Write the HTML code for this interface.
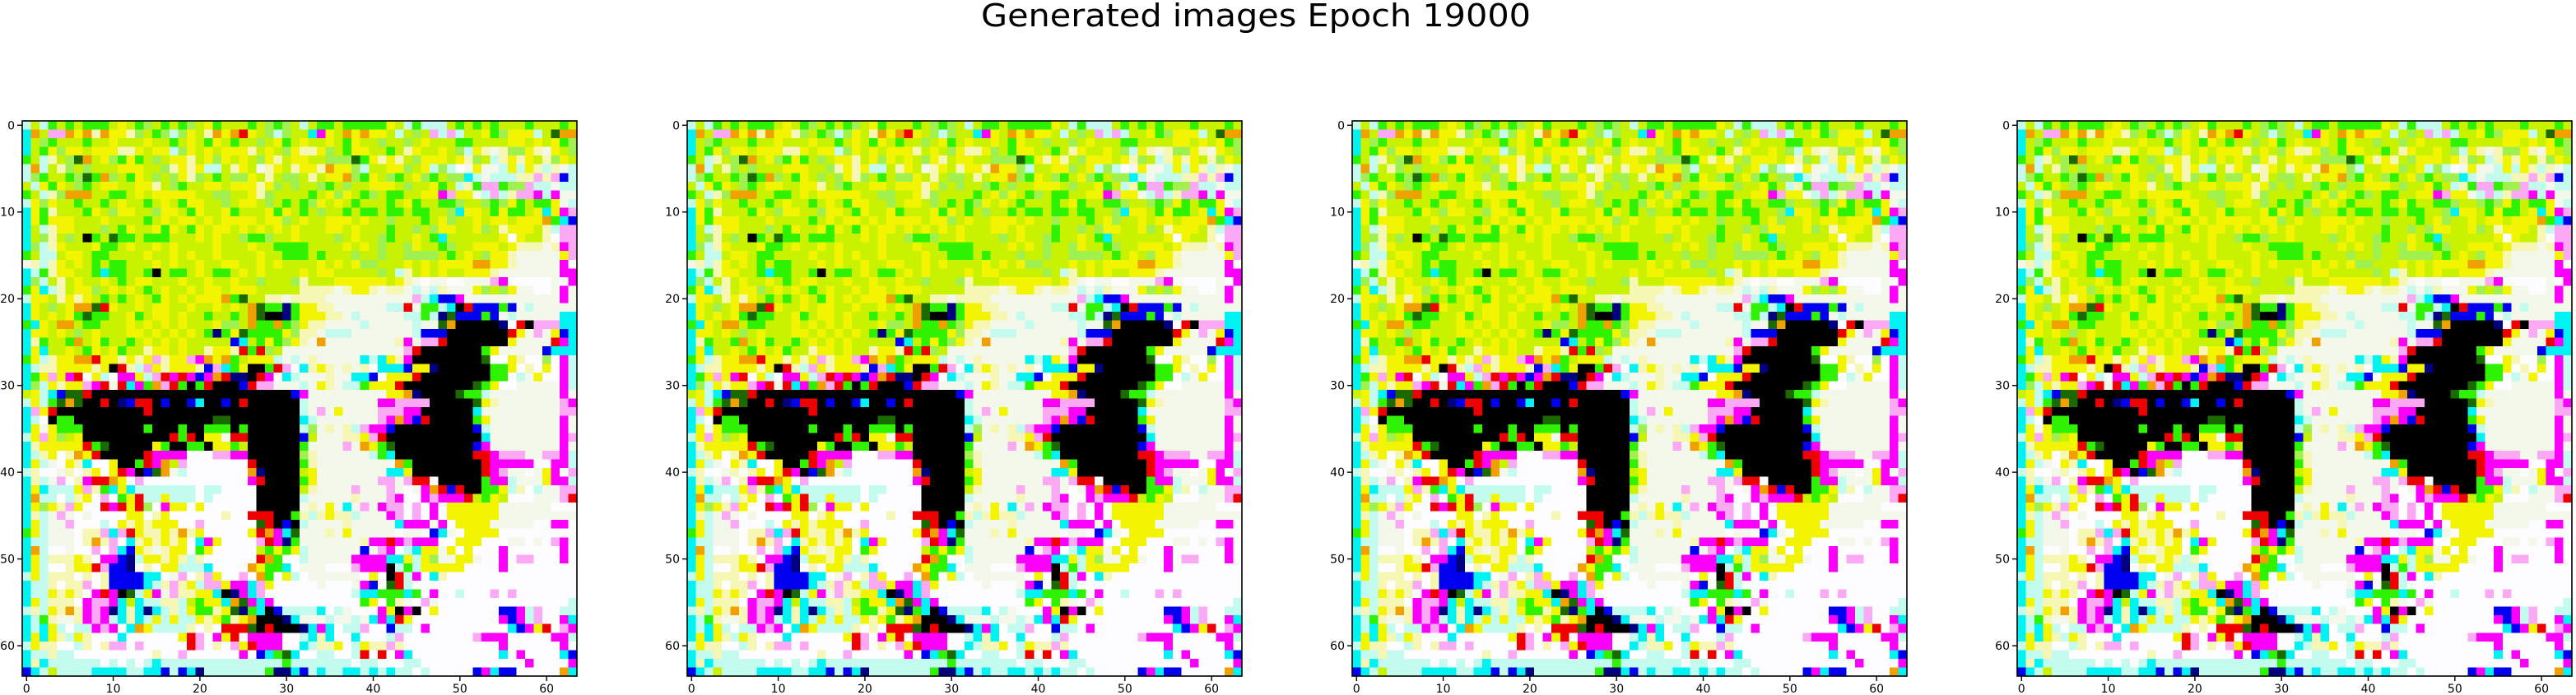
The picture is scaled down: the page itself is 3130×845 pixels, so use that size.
<!DOCTYPE html>
<html><head><meta charset="utf-8"><style>
html,body{margin:0;padding:0;background:#fff;}
svg{display:block;font-family:"DejaVu Sans","Liberation Sans",sans-serif;}
</style></head><body>
<svg id="fig" width="3130" height="845" viewBox="0 0 3130 845" xmlns="http://www.w3.org/2000/svg">
<text x="1526" y="32" font-size="38" text-anchor="middle" textLength="668" lengthAdjust="spacingAndGlyphs" fill="#000">Generated images Epoch 19000</text>
</svg>
<script>
// Data: 64x64 generated image, one char per pixel (palette codes)
const imageRows = [
"cLcGLGLGGGLYLGgLGLGgLYGLLLGLgGgLcLGGLGGGGGYLcGcccLGLGLGLLLGLLLGLGg",
"COLmmOYOpOYYpgLGgcgYLpOYORYLgcgLLCMYLOYOYYLcLgLmcmcLLYGgYYYcLDOO",
"CLgGLLLGLLYLLLYLLGLYLGYLGLLgLYGLYLLYLGYLLgLLgLYLLLGGLLLLYYLYLYGg",
"CLGYgYYLYYYppYLYYcgYLYLYYYpLYLgYppYgLGYYLLGLpYLLYLgcYpwpggYpwYLg",
"GLcpLgDOLYgGYGLgLYYpLYgYLYLgYpLYYLLgggDGYpYpLgYYYLYpgLcpYpYLpgYL",
"cOcLpgLgLLLYYYLLgpYpYccLpYLwpYLpYYpOYYgcLLYYgLYcgcWwYwwcYcYpcpwc",
"cgGLLGgDGOgLGYLgLgYpgLGLggYLpLggLpLYYOgGYLgGLYgGLggCcwcccppmpmBc",
"LcYGYLgGLYYLLYYpLgGLLYYLYYYpYgLgLLgGLgLLYYYLgLLYGLcpGmmGggmccwcc",
"GLcpgOOOLLGGLYLYYYYYLLggLLYpgLLLLGLYgYLGgLGGLLYYMmYYwcmcpmmMcMww",
"cYgYLLGLLGLYLLGLYLGYYLLgLYYLgLGLGgYLYLGLLLGLYGLLGGgLLgGgYGLGGYwc",
"CYGpLLLGYLgYYLLgYYLGYLLYGLLLYGYLGLgLLGLGGLGGLGGLLgCYYLGYGGLYCYMm",
"CYGYYYLLLYLLLLGLYLYYLYLYYYYLYYgLYLLYYYLYLLgLLLGLYgLLYLYYLYYYOGCB",
"CLcpYYLLLgLGYLLYGYLGYLYYLYLYLYLYLLLYYLYLLLGLLgLgYYLLYgLpYYYLpcmm",
"CLgpLgLKGLDGGLGGGLLLYLYLLgGGgLLYLLLLgLYLLgGLLYLGCLLLLLLYWYLLpWmm",
"CgcpYLLLYGGLYLLYLYLLLLYLLLYLLGGGGLLLLYLYLgLLgYLLGgLLYYYLYpppwpMm",
"GLccLYYLGGLLLLYLLYLYLLYLLLLYLLGGGLGLLLgLLgLLggggLGLYLgYYpwwwwwYm",
"wpcpYLYLGLGGLLLYLYLLYLLYYLLYLYLLLLYLYLYggLLLYLYLYYYYOOYYpwwwwwMW",
"CcGpYYLLGCGGLLGKLGGLYLGGLYLYLLLLYLYYLLLLLgLcpLYLYLLYYYpwwwwwwwMM",
"CgcLpLYLLYLGLYYLLLYLLYLLYLLgLLLgpLLLYYYYYYLYpwWwwWWwwwmMWWWWWwWM",
"GYCcpLYYgLYLYLGLYLLYLYYLYYYLLLLLppppwpYYpwppwcwcpwwwYgLgYwwWWwMw",
"cYYLpYpYLGLGLYLGYLYLYYYOGDLLppwppppwwwwwwwwwwmcCBBMwwwwwwwwwwwMw",
"CYLgLYOODRYLLYLYYLLYLLYLYLODGGNGYYppwwwwwwccRwGGcCKRBBBGBwcwwwwwCC",
"CYLYLYGDGGLLYGLYYLYLLGLLGLODKKNGYYYppwcwwwwwccGcNDBBBGBwcwwwwwCC",
"GCYLOOLGGLLLYLYLYLYLLLYggLOGGOGgYppwwwwcwwwwwcwwDOKKKKKNWRKmmmCC",
"CYYLYLgLYLLLYYLYLYLYLGNGYDGGGGYgppwcccwwwwwwwcBBBKKKKKKKRYwmwYBC",
"CpGLLGOLYGLLGLYLYLYLLLLLBCLGYGgYpwOwwwwwwwwpMwmmRKKKKKKKYwwwwRMC",
"CYCLLYLGYLYGLLpYYLYLLpYYpRGRgLwwwwwwwwwwwwwwmRKKKKKKKGYwwwwwBC",
"GYcpYYOORYYpYpYmpYYmMOYOGLYYYcwcwpwwwwwCcCYpMKKKKKKKKDWWYpWWgWMc",
"CcppYYYYpYKRpcmYpYYYpBmCGYKKGRmWCpYpwpwpWCCCBYYNKKKKKKGGYWpWYWMc",
"CGYmYMRWYcWMMYcmRMRMBMORNNKRMWCcwwwpwwCCBWYYYRKKKKKKKKGGWcwYWWMc",
"CgcYpYYmMRwRCMGOmRGKGRKKKBRmmwwwcwYpwccGYYYRKKKKKKKKDGYWWwwwwwMc",
"LYcCBDDRKKKKKKKKKKKKKKKKKKKKKKKBMwwwwwwwwwYYONKKKKDGGcwwwwwwwwMw",
"cYcGDODKKRKNBRRKBKKBCKKBKRKKKKKKcwwwwwwwwMMmmmmKKKKKDYpwwwwwwwmM",
"CmYRKKKKKKKKKKRKKKKKKKKKKKKKKKKKcwmwYwwwwmmmMMKKKKKKCwwwwwwwwwmm",
"CcWKGGKKKKKKKKKKKKKKKKDDKKKKKKKKCcwwwwwwwmMOMBRKKKKKGYwwwwwwwwMw",
"CYwYGGGKKKKKKKGKKKGKKGGGKGKKKKKKcgwpwpcmMMBKKKKKKKKKBcwwwwwwwwMw",
"cYmYgLYKKKKKKKKKKRGRKYYwRRKKKKKKBLwwwppYmRKKKKKKKKKKKCwwwwwwwwMm",
"CpYYYYYRGDKKKKKYGKKGGKYYGLKKKKKKGwwwwmwOYGDKKKKKKKKKBMwwwwwwwwMw",
"CcpYWpOYRKKKKKRMMMMWWWmmMMKKKKKKgpwwwwwwcGCKKKKKKKKKRRMmmmwwmmMc",
"CYcwWYpCWWYKKGRMOLmWWWWWWWRKKKKKGpwwwwwwwwwOGKKKKKKKKRMMMMMWWMMc",
"cpWWwpWpYWYRMKBDOwcWWWWWWWONKKKKLYwwwwwwwwCCYKKKKKKKKRMmwwWwYMWm",
"CpcwmWpMRROYWmWWWWWWWWWWWWMRKKKKGYwwwwwwwmmwmRRWKKKKKGMMcwwwYMMc",
"CYCcccYmpGCYCcccccccWccWWWWKKKKKLpwwwwmwwwmwWwMORBRKKGGYcpWcwwmm",
"COccWcpYWmWGYRccYcccWcWWWWWKKKKKcwwwwwpwwwmMWWMmMMMRLGYLWWWwwwmR",
"CYgYpmYWWRMRYRgWMYYWYWWWWWWKKKKKwpwYwCwmwMmmWmWMWYYYYYYwwwwwwWWW",
"CpcwmwWwWWWWYYWpYWWWWWWpWWRRRKKGpcpYppcwwwMmWmWMWYYYYYYwwwwwwwww",
"CYcwwmWWWcWYpYpYYYWWmWWWWWWDRKBKcwwwwpwwwwwCMMMwMWYYYYwwwwwWWMMW",
"GYcwwwWppmCmRYppYpOpYWWWWWYROMCDwwwpwYwwwwwWwwWBCwWYYYYWWWWWWWWW",
"CccwwwWpOpmWCpYpYpYWCMYWWWWmRMNGwwwwwwwpMMRMmMMMWWYYYWWWwwWwWmMW",
"COcWWwWWmWmCBYpwpYYWGYWWWWWLGYGYcwwwwwwBwmMWcCYYwYWYWWWMWWWWWWMW",
"CYcpppYpWMMBNcYYpYpcpWWWWWWROGWWcwwwwwMMMMCCYcYgwwYYwWWMWmmWWWMW",
"CYcWWpYYRmBBNWpWYYcccCWWWWOYGGCWwwwWWWmMMMKcGcYYYYYWWWWMWWWWWWWW",
"cYcpppWpWpBBBBCCWwmWpmYWWmWOGWYcWwwwwwwWYWKRcMWCpWWWWWWWWWWWWWWW",
"CccpWppmWpBBBBCcpmpYcmmYMMCmYWWWWWwWWWwMBWDRcWWWWWWWWWWWWWWWWWWW",
"CccYpYpWMRMKDcYMwmppYYCKNMCmWWWWWWWWWWcCCGGGCGWMWWcWWWmWmWWWWWWW",
"CYcpppWMmmMCLCccppcLGYYCODMCMWWWWWWWWWWGYWGpwWmwWWWWWWWWWWWWWWWc",
"cpcYpOpMmMNCpCNCcpcYGGpYDNGCKBccccCWcwWWWMYKMKWYWWWWWWWBBMcmWWcc",
"CcGpwwpMmMcCpCcYcYccYpYGpYOKKKNCwwwcwwcwCMCRYWWWWWWWWWWMBMcmWWMC",
"CcCYcWccMmMWCOYccccpWpWRRRDKRKKKNCMCWccmWWBccWMWWWWWWWWWCBMYRWmMB",
"CYCYpcYpWWWCWWWWWWYRmWMYRWMMMMWWcCpCWWCWWWcmWWWWWWWWmMMMWWWWWMMc",
"cYppWWcpWpmmWmWWWWWRmWpWmYRMMMWWCcppYWcYppmpWWWWWWWWWWWMWWWWWWMW",
"CccpccWWWWWWWWWpWWmWWWWWWMWBCGDCWWccWWcRWRWMCWWWWWWWWWWCWMWWWWCB",
"CpCccccccWcWcWcCccccccccccccccGcccccccWccWWWccWWWWWWWWWWWWMWWWWMc",
"BCcLccccCCCCccCCBcBCNcccccccGNNCBcCccCCcCcCccWcWWWWWBMCBBWWWWWOC"
];
const paletteCodes = ["Y","L","G","g","W","w","p","c","C","K","M","m","B","R","O","D","N"];
const paletteColors = ["#f2f400","#c8f200","#2ef200","#a0f050","#fdfdff","#f4f8ea","#f6f7b4","#c4fbef","#00f2f2","#000000","#fa00fa","#fba8f5","#0000f0","#ee0000","#f0a000","#1a6a00","#000080"];
const xTickLabels = ["0","10","20","30","40","50","60"];
const yTickLabels = ["0","10","20","30","40","50","60"];
const panelIds = ["image-1","image-2","image-3","image-4"];

const NS = "http://www.w3.org/2000/svg";
const svg = document.getElementById("fig");
const panelLefts = [27, 835, 1643, 2451];
const top0 = 147, pw = 674, ph = 675, N = 64;
const cw = pw / N, ch = ph / N;
const colorOf = {};
paletteCodes.forEach((k, i) => colorOf[k] = paletteColors[i]);

function mk(tag, attrs) {
  const e = document.createElementNS(NS, tag);
  for (const k in attrs) e.setAttribute(k, attrs[k]);
  return e;
}

panelIds.forEach((pid, pi) => {
  const left = panelLefts[pi];
  const xs = c => left + c * cw;
  const ys = r => top0 + r * ch;
  const g = mk("g", {});
  
  
  svg.appendChild(g);
  const cells = mk("g", {"shape-rendering": "crispEdges"});
  
  
  g.appendChild(cells);
  for (let r = 0; r < N; r++) {
    let row = imageRows[r] || "";
    while (row.length < N) row += row.charAt(row.length - 1) || "W";
    for (let c = 0; c < N; c++) {
      const rect = mk("rect", {x: xs(c).toFixed(2), y: ys(r).toFixed(2), width: (cw + 0.6).toFixed(2), height: (ch + 0.6).toFixed(2), fill: colorOf[row[c]] || "#ffffff"});
      
      
      cells.appendChild(rect);
    }
  }
  const frame = mk("rect", {x: left, y: top0, width: pw, height: ph, fill: "none", stroke: "#000", "stroke-width": 1.6});
  
  
  g.appendChild(frame);
  xTickLabels.forEach(t => {
    const v = +t, x = xs(v + 0.5);
    const tk = mk("line", {x1: x, y1: top0 + ph, x2: x, y2: top0 + ph + 6, stroke: "#000", "stroke-width": 1.4});
    
    
    g.appendChild(tk);
    const tx = mk("text", {x: x, y: 842, "font-size": 14, "text-anchor": "middle", fill: "#000"});
    tx.textContent = t;
    
    
    g.appendChild(tx);
  });
  yTickLabels.forEach(t => {
    const v = +t, y = ys(v + 0.5);
    const tk = mk("line", {x1: left - 6, y1: y, x2: left, y2: y, stroke: "#000", "stroke-width": 1.4});
    
    
    g.appendChild(tk);
    const tx = mk("text", {x: left - 9, y: y + 5, "font-size": 14, "text-anchor": "end", fill: "#000"});
    tx.textContent = t;
    
    
    g.appendChild(tx);
  });
});
</script>
</body></html>
